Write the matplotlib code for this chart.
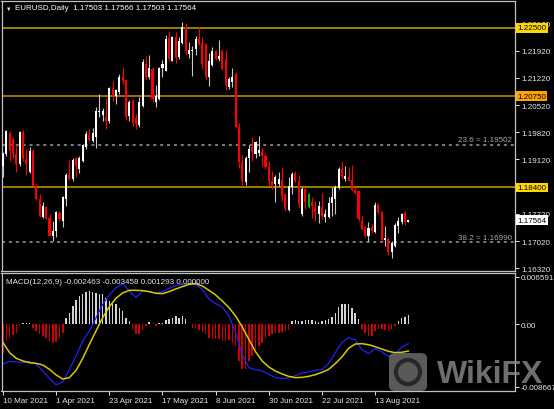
import numpy as np
import matplotlib.pyplot as plt
import matplotlib.transforms as mtrans
from matplotlib.patches import FancyBboxPatch, Ellipse

plt.rcParams['font.family'] = ['Liberation Sans', 'DejaVu Sans']

# EURUSD daily candles, 10 Mar 2021 onwards
opens = [1.1896, 1.1926, 1.1979, 1.1965, 1.1926, 1.1900, 1.1982, 1.1913, 1.1881, 1.1935,
         1.1845, 1.1810, 1.1765, 1.1791, 1.1762, 1.1716, 1.1729, 1.1774, 1.1755, 1.1810,
         1.1873, 1.1862, 1.1916, 1.1888, 1.1909, 1.1943, 1.1976, 1.1960, 1.1969, 1.2033,
         1.2027, 1.2022, 1.2010, 1.2093, 1.2076, 1.2085, 1.2123, 1.2116, 1.2025, 1.2063,
         1.2019, 1.2001, 1.2050, 1.2157, 1.2123, 1.2145, 1.2061, 1.2067, 1.2147, 1.2140,
         1.2224, 1.2166, 1.2228, 1.2175, 1.2211, 1.2252, 1.2183, 1.2190, 1.2196, 1.2222,
         1.2211, 1.2209, 1.2123, 1.2156, 1.2190, 1.2170, 1.2192, 1.2170, 1.2099, 1.2110,
         1.2132, 1.1995, 1.1905, 1.1853, 1.1916, 1.1943, 1.1926, 1.1928, 1.1930, 1.1922,
         1.1893, 1.1857, 1.1849, 1.1849, 1.1859, 1.1823, 1.1782, 1.1840, 1.1876, 1.1857,
         1.1772, 1.1836, 1.1789, 1.1802, 1.1791, 1.1772, 1.1791, 1.1765, 1.1763, 1.1799,
         1.1810, 1.1839, 1.1888, 1.1862, 1.1868, 1.1859, 1.1834, 1.1832, 1.1755, 1.1738,
         1.1716, 1.1738, 1.1725, 1.1796, 1.1776, 1.1705, 1.1708, 1.1673, 1.1690, 1.1742,
         1.1750, 1.1774, 1.17503]
highs = [1.1930, 1.1988, 1.1986, 1.1969, 1.1948, 1.1986, 1.1988, 1.1939, 1.1943, 1.1939,
         1.1849, 1.1823, 1.1802, 1.1793, 1.1772, 1.1755, 1.1780, 1.1780, 1.1819, 1.1876,
         1.1911, 1.1916, 1.1922, 1.1922, 1.1952, 1.1986, 1.1990, 1.1993, 1.2046, 1.2080,
         1.2044, 1.2070, 1.2099, 1.2115, 1.2093, 1.2133, 1.2149, 1.2119, 1.2065, 1.2067,
         1.2029, 1.2072, 1.2170, 1.2179, 1.2181, 1.2149, 1.2104, 1.2149, 1.2168, 1.2233,
         1.2243, 1.2230, 1.2239, 1.2228, 1.2265, 1.2262, 1.2213, 1.2205, 1.2230, 1.2253,
         1.2226, 1.2211, 1.2187, 1.2200, 1.2193, 1.2219, 1.2196, 1.2193, 1.2123, 1.2147,
         1.2136, 1.2007, 1.1924, 1.1922, 1.1950, 1.1969, 1.1960, 1.1973, 1.1943, 1.1928,
         1.1909, 1.1883, 1.1873, 1.1879, 1.1893, 1.1825, 1.1866, 1.1879, 1.1883, 1.1873,
         1.1840, 1.1842, 1.1825, 1.1816, 1.1806, 1.1804, 1.1827, 1.1785, 1.1816, 1.1840,
         1.1847, 1.1892, 1.1907, 1.1896, 1.1892, 1.1899, 1.1840, 1.1834, 1.1767, 1.1742,
         1.1750, 1.1746, 1.1802, 1.1799, 1.1779, 1.1742, 1.1712, 1.1703, 1.1748, 1.1765,
         1.1774, 1.1779, 1.17566]
lows = [1.1868, 1.1922, 1.1909, 1.1917, 1.1881, 1.1896, 1.1909, 1.1873, 1.1876, 1.1842,
        1.1808, 1.1763, 1.1762, 1.1759, 1.1714, 1.1702, 1.1712, 1.1755, 1.1738, 1.1793,
        1.1859, 1.1857, 1.1866, 1.1876, 1.1905, 1.1939, 1.1959, 1.1956, 1.1941, 1.2020,
        1.2012, 1.1990, 1.2007, 1.2063, 1.2055, 1.2080, 1.2106, 1.2013, 1.2012, 1.1999,
        1.1990, 1.1995, 1.2046, 1.2119, 1.2119, 1.2061, 1.2048, 1.2065, 1.2123, 1.2139,
        1.2166, 1.2164, 1.2159, 1.2170, 1.2209, 1.2181, 1.2173, 1.2127, 1.2181, 1.2207,
        1.2145, 1.2119, 1.2102, 1.2153, 1.2168, 1.2166, 1.2142, 1.2091, 1.2093, 1.2099,
        1.1993, 1.1890, 1.1845, 1.1847, 1.1879, 1.1909, 1.1916, 1.1922, 1.1896, 1.1888,
        1.1845, 1.1836, 1.1802, 1.1845, 1.1806, 1.1779, 1.1780, 1.1823, 1.1853, 1.1789,
        1.1767, 1.1785, 1.1787, 1.1762, 1.1755, 1.1748, 1.1759, 1.1750, 1.1762, 1.1767,
        1.1772, 1.1836, 1.1862, 1.1857, 1.1856, 1.1830, 1.1823, 1.1753, 1.1731, 1.1712,
        1.1703, 1.1722, 1.1722, 1.1772, 1.1703, 1.1690, 1.1667, 1.1660, 1.1688, 1.1722,
        1.1746, 1.1744, 1.17503]
closes = [1.1926, 1.1986, 1.1935, 1.1926, 1.1900, 1.1982, 1.1917, 1.1900, 1.1935, 1.1845,
          1.1810, 1.1767, 1.1793, 1.1762, 1.1716, 1.1729, 1.1776, 1.1759, 1.1815, 1.1873,
          1.1862, 1.1911, 1.1896, 1.1917, 1.1948, 1.1977, 1.1962, 1.1979, 1.2037, 1.2037,
          1.2036, 1.2012, 1.2096, 1.2076, 1.2091, 1.2125, 1.2115, 1.2020, 1.2061, 1.2007,
          1.2003, 1.2061, 1.2162, 1.2123, 1.2147, 1.2067, 1.2076, 1.2146, 1.2157, 1.2222,
          1.2170, 1.2226, 1.2173, 1.2216, 1.2252, 1.2192, 1.2193, 1.2193, 1.2222, 1.2209,
          1.2157, 1.2123, 1.2166, 1.2190, 1.2170, 1.2179, 1.2145, 1.2104, 1.2119, 1.2125,
          1.1995, 1.1905, 1.1857, 1.1917, 1.1939, 1.1930, 1.1956, 1.1936, 1.1922, 1.1893,
          1.1857, 1.1845, 1.1866, 1.1862, 1.1819, 1.1785, 1.1845, 1.1875, 1.1857, 1.1798,
          1.1836, 1.1802, 1.1822, 1.1793, 1.1776, 1.1793, 1.1767, 1.1772, 1.1799, 1.1815,
          1.1840, 1.1888, 1.1866, 1.1870, 1.1857, 1.1834, 1.1827, 1.1759, 1.1733, 1.1716,
          1.1736, 1.1727, 1.1796, 1.1776, 1.1705, 1.1710, 1.1673, 1.1696, 1.1744, 1.1755,
          1.1772, 1.1750, 1.17564]
green_bar = 92

# MACD(12,26,9) histogram for every bar
macd_hist = [-0.00393, -0.00222, -0.00185, -0.00148, -0.00116, -0.00020, 0.00014, 0.00014, 0.00023, -0.00046,
             -0.00092, -0.00139, -0.00162, -0.00185, -0.00231, -0.00254, -0.00240, -0.00185, -0.00116, 0.00092,
             0.00162, 0.00254, 0.00333, 0.00393, 0.00425, 0.00453, 0.00462, 0.00453, 0.00439, 0.00425,
             0.00416, 0.00370, 0.00323, 0.00300, 0.00277, 0.00231, 0.00185, 0.00092, 0.00046, -0.00069,
             -0.00139, -0.00139, -0.00083, -0.00023, 0.00037, 0.00000, -0.00023, 0.00023, 0.00023, 0.00055,
             0.00069, 0.00092, 0.00116, 0.00092, 0.00116, 0.00069, 0.00000, -0.00046, -0.00069, -0.00083,
             -0.00102, -0.00139, -0.00185, -0.00208, -0.00208, -0.00208, -0.00231, -0.00231, -0.00222, -0.00254,
             -0.00300, -0.00508, -0.00624, -0.00624, -0.00508, -0.00439, -0.00347, -0.00300, -0.00254, -0.00185,
             -0.00162, -0.00139, -0.00116, -0.00116, -0.00102, -0.00092, -0.00083, 0.00046, 0.00055, 0.00046,
             0.00046, 0.00055, 0.00055, 0.00055, 0.00046, 0.00037, 0.00046, 0.00055, 0.00069, 0.00102,
             0.00162, 0.00240, 0.00277, 0.00286, 0.00277, 0.00222, 0.00162, 0.00069, -0.00069, -0.00116,
             -0.00162, -0.00162, -0.00092, -0.00069, -0.00069, -0.00083, -0.00092, -0.00069, -0.00023, 0.00046,
             0.00083, 0.00102, 0.00129]

# MACD and signal lines, read every second bar
line_bars = list(range(0, 123, 2))
macd_line = [-0.00545, -0.00513, -0.00522, -0.00527, -0.00517, -0.00554, -0.00647, -0.00748, -0.00841, -0.00795,
             -0.00624, -0.00439, -0.00231, -0.00092, 0.00092, 0.00277, 0.00407, 0.00508, 0.00564, 0.00462,
             0.00370, 0.00462, 0.00453, 0.00434, 0.00453, 0.00499, 0.00536, 0.00554, 0.00564, 0.00554,
             0.00485, 0.00347, 0.00286, 0.00240, 0.00116, -0.00116, -0.00416, -0.00601, -0.00628, -0.00647,
             -0.00693, -0.00739, -0.00748, -0.00744, -0.00711, -0.00675, -0.00656, -0.00638, -0.00628, -0.00545,
             -0.00393, -0.00254, -0.00185, -0.00213, -0.00347, -0.00407, -0.00337, -0.00379, -0.00444, -0.00416,
             -0.00314, -0.00268]
signal_line = [-0.00254, -0.00393, -0.00471, -0.00508, -0.00531, -0.00541, -0.00564, -0.00624, -0.00702, -0.00758,
               -0.00739, -0.00638, -0.00471, -0.00277, -0.00092, 0.00092, 0.00245, 0.00360, 0.00434, 0.00471,
               0.00471, 0.00467, 0.00453, 0.00430, 0.00425, 0.00453, 0.00490, 0.00522, 0.00554, 0.00564,
               0.00531, 0.00471, 0.00407, 0.00323, 0.00231, 0.00116, -0.00037, -0.00208, -0.00379, -0.00508,
               -0.00591, -0.00647, -0.00688, -0.00721, -0.00739, -0.00735, -0.00721, -0.00698, -0.00665, -0.00624,
               -0.00545, -0.00453, -0.00333, -0.00273, -0.00268, -0.00282, -0.00310, -0.00342, -0.00374, -0.00393,
               -0.00388, -0.00370]

date_bars = [0, 16, 32, 48, 64, 80, 96, 112]
date_labels = ['10 Mar 2021', '1 Apr 2021', '23 Apr 2021', '17 May 2021',
               '8 Jun 2021', '30 Jun 2021', '22 Jul 2021', '13 Aug 2021']
price_ticks = [1.2262, 1.2192, 1.2122, 1.2052, 1.1982, 1.1912, 1.1842, 1.1772, 1.1702, 1.1632]
levels = [1.22500, 1.20750, 1.18400]
fib_levels = [1.19502, 1.16990]
fib_names = ['23.6', '38.2']

W, H = 554, 410
FS = 5.8
GRID = '#c0c0c0'


def box(x0, y0, x1, y1):
    return [x0 / W, 1 - y1 / H, (x1 - x0) / W, (y1 - y0) / H]


fig = plt.figure(figsize=(W / 100, H / 100), dpi=100, facecolor='black')
ax = fig.add_axes(box(1.5, 2, 515, 272))
mx = fig.add_axes(box(1.5, 274, 515, 392))

for a in (ax, mx):
    a.set_facecolor('black')
    for s in a.spines.values():
        s.set_color(GRID)
        s.set_linewidth(0.9)
    a.yaxis.tick_right()
    a.tick_params(colors='#e6e6e6', labelsize=FS, length=3, width=0.7, pad=1.5)
    a.set_xlim(-0.45, 154.1)

# candles
x = np.arange(len(closes))
o, h, l, c = (np.array(v) for v in (opens, highs, lows, closes))
up = c >= o
body_col = np.where(up, '#ffffff', '#ff0000').astype(object)
wick_col = np.where(up, '#c8c8c8', '#ff0000').astype(object)
body_col[green_bar] = '#00c000'
wick_col[green_bar] = '#00c000'
ax.vlines(x, l, h, colors=list(wick_col), linewidth=0.8, zorder=3)
ax.bar(x, np.maximum(np.abs(c - o), 0.00025), bottom=np.minimum(o, c), width=0.62,
       color=list(body_col), linewidth=0, zorder=4)

ax.set_ylim(1.16253, 1.23194)
ax.set_yticks(price_ticks)
# the 1.18420 label sits fully under the 1.18400 level box, so it stays blank
ax.set_yticklabels(['' if abs(p - 1.1842) < 1e-6 else f'{p:.5f}' for p in price_ticks])
ax.set_xticks([])

blend = mtrans.blended_transform_factory(ax.transAxes, ax.transData)
for lv, lc, fc in zip(levels, ['#c8a000', '#d08a00', '#c8a000'], ['#ffd700', '#ffa500', '#ffd700']):
    ax.axhline(lv, color=lc, linewidth=1.1, zorder=2)
    ax.text(1.004, lv, f'{lv:.5f}', transform=blend, va='center', ha='left', fontsize=FS,
            color='black', bbox=dict(boxstyle='square,pad=0.18', fc=fc, ec='none'),
            clip_on=False, zorder=10)
for lv, name in zip(fib_levels, fib_names):
    ax.axhline(lv, color='#9a9a9a', linewidth=1.1, linestyle=(0, (2, 2.5)), zorder=2)
    ax.text(0.995, lv + 0.0003, f'{name} = {lv:.5f}', transform=blend, ha='right', va='bottom',
            fontsize=FS, color='#a8a8a8', zorder=5)
ax.text(1.004, closes[-1], f'{closes[-1]:.5f}', transform=blend, va='center', ha='left',
        fontsize=FS, color='black', bbox=dict(boxstyle='square,pad=0.18', fc='white', ec='none'),
        clip_on=False, zorder=10)

# MACD panel
hist = np.array(macd_hist)
mx.bar(x, hist, width=0.45, color=np.where(hist >= 0, '#d4d4d4', '#d00000'), linewidth=0)
mx.plot(line_bars, macd_line, color='#2020ff', linewidth=0.9)
mx.plot(line_bars, signal_line, color='#d8c800', linewidth=1.1)
mx.set_ylim(-0.00924, 0.00711)
mx.set_yticks([0.006591, 0.0, -0.008667])
mx.set_yticklabels(['0.006591', '0.00', '-0.008667'])
mx.tick_params(axis='y', pad=1.0)
mx.set_xticks(date_bars)
mx.set_xticklabels(date_labels, ha='left')

fig.text(6 / W, 1 - 9 / H, '\u25bc', fontsize=4, color='white', va='center')
fig.text(15 / W, 1 - 9 / H, 'EURUSD,Daily  1.17503 1.17566 1.17503 1.17564',
         fontsize=FS, color='white', va='center')
fig.text(6 / W, 1 - 283 / H, 'MACD(12,26,9) -0.002463 -0.003458 0.001293 0.000000',
         fontsize=FS, color='#e6e6e6', va='center')

# watermark
fig.patches.append(FancyBboxPatch((389 / W, 1 - 392 / H), 38 / W, 38 / H,
                                  boxstyle='round,pad=0,rounding_size=0.012',
                                  transform=fig.transFigure, fc='#707070', ec='none',
                                  alpha=0.8, zorder=20))
fig.patches.append(Ellipse((408 / W, 1 - 373 / H), 24 / W, 24 / H, transform=fig.transFigure,
                           fc='none', ec='#262626', lw=3, zorder=21))
fig.text(437 / W, 1 - 375 / H, 'WikiFX', fontsize=23, fontweight='bold', color='#8a8a8a',
         alpha=0.8, va='center', zorder=20)

fig.savefig('out.png', dpi=100, facecolor='black')
